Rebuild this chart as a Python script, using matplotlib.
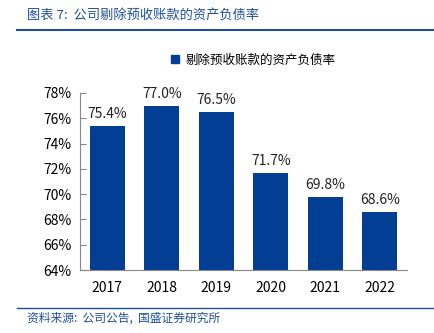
import matplotlib.pyplot as plt
from matplotlib.lines import Line2D

plt.rcParams['font.family'] = ['Noto Sans CJK SC', 'DejaVu Sans']

years = ['2017', '2018', '2019', '2020', '2021', '2022']
ratio = [75.4, 77.0, 76.5, 71.7, 69.8, 68.6]
series_name = '剔除预收账款的资产负债率'
title = '图表 7:  公司剔除预收账款的资产负债率'
source = '资料来源:  公司公告,  国盛证券研究所'

bar_color = '#023e94'
text_blue = '#1f4e9c'

fig = plt.figure(figsize=(4.35, 3.33), dpi=100)
ax = fig.add_axes([0.184, 0.189, 0.752, 0.532])

x = range(len(years))
bars = ax.bar(x, ratio, width=0.64, color=bar_color, label=series_name)
for xi, v in zip(x, ratio):
    ax.text(xi, v + 0.35, f'{v:.1f}%', ha='center', va='bottom', fontsize=10, color='#222222')

ax.set_ylim(64, 78)
ax.set_xlim(-0.5, len(years) - 0.5)
ax.set_yticks(range(64, 79, 2))
ax.set_yticklabels([f'{t}%' for t in range(64, 79, 2)], fontsize=10)
ax.set_xticks(list(x))
ax.set_xticklabels(years, fontsize=10)
ax.tick_params(axis='x', length=0, pad=8)
ax.tick_params(axis='y', length=4, direction='in', color='#888888', pad=6)
for s in ['top', 'right']:
    ax.spines[s].set_visible(False)
ax.spines['left'].set_color('#888888')
ax.spines['bottom'].set_color('#888888')

handle = Line2D([], [], marker='s', color='none', markerfacecolor=bar_color,
                markeredgecolor=bar_color, markersize=6)
fig.legend([handle], [series_name], loc='center', bbox_to_anchor=(0.58, 0.82),
           frameon=False, fontsize=9, handletextpad=0.3, handlelength=1)

fig.text(0.062, 0.955, title, fontsize=9.5, color=text_blue, style='italic', va='center')
fig.add_artist(Line2D([0.04, 1.0], [0.91, 0.91], color=text_blue, lw=1.5))
fig.add_artist(Line2D([0.04, 1.0], [0.075, 0.075], color=text_blue, lw=1.0))
fig.text(0.062, 0.045, source, fontsize=8.5, color=text_blue, style='italic', va='center')

fig.savefig('out.png', dpi=100)
